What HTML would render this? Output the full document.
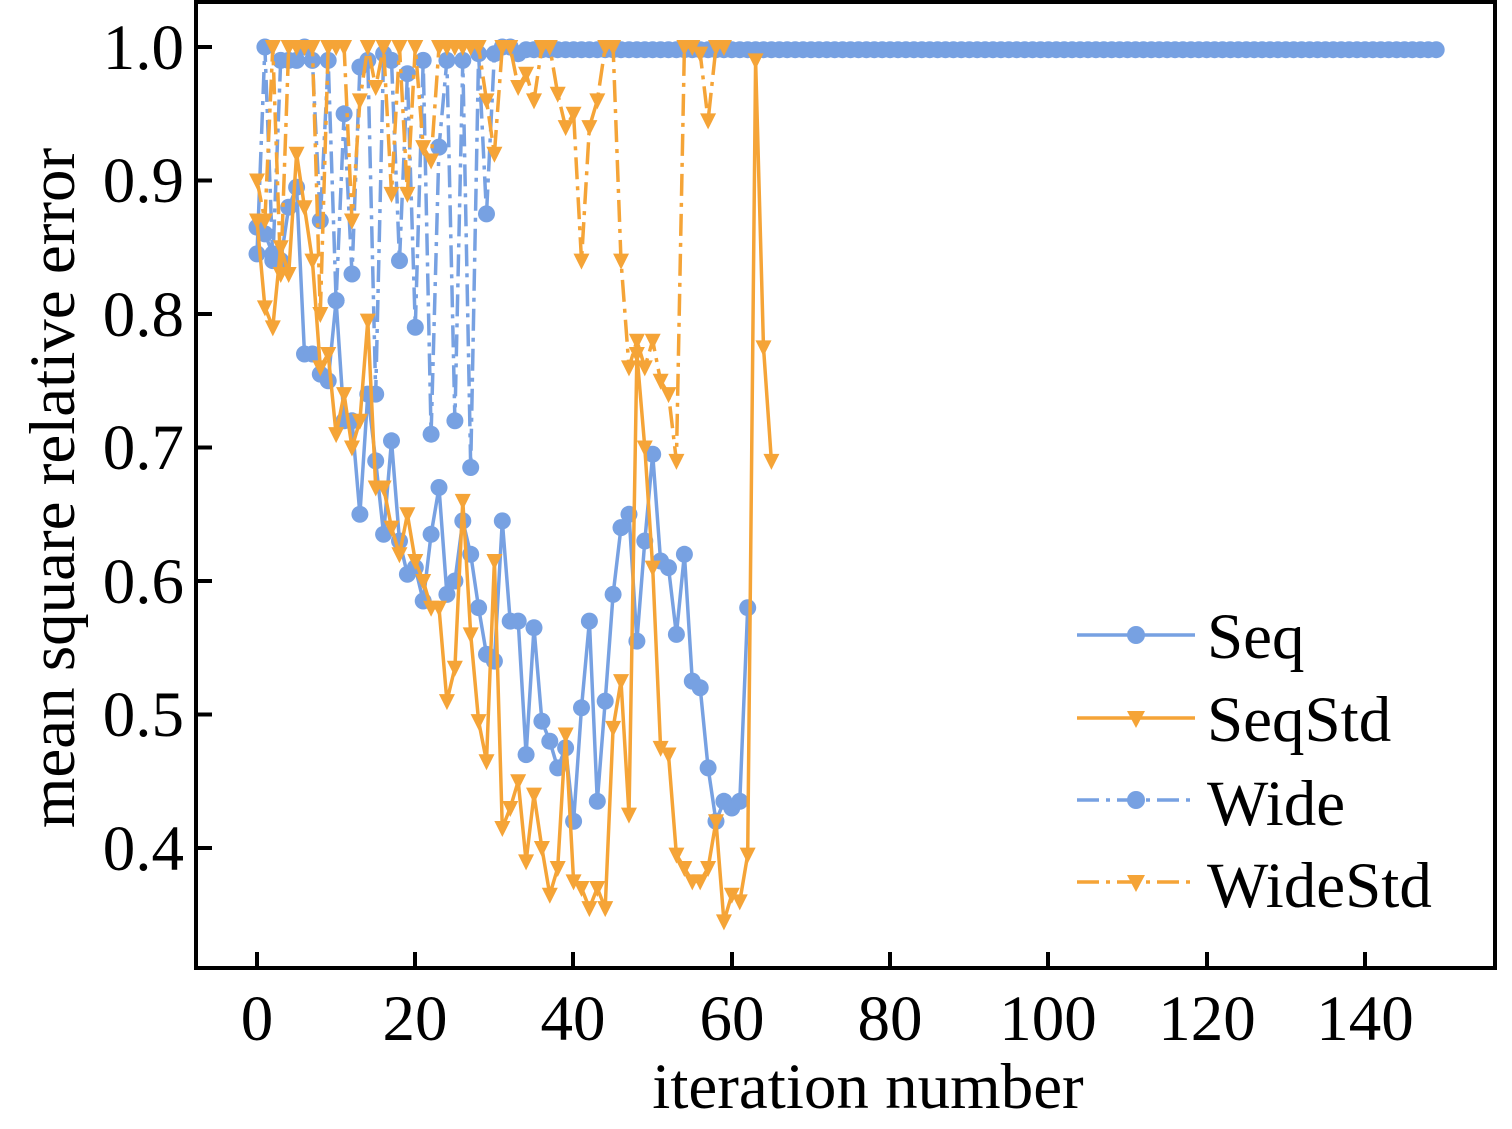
<!DOCTYPE html>
<html><head><meta charset="utf-8"><style>
html,body{margin:0;padding:0;background:#fff;}
svg{display:block;}
text{font-family:"Liberation Serif",serif;fill:#000;}
</style></head><body>
<svg id="s" width="1512" height="1129" viewBox="0 0 1512 1129" xmlns="http://www.w3.org/2000/svg">
<rect x="0" y="0" width="1512" height="1129" fill="#fff"/>
<g id="data"></g>
<rect x="196" y="2" width="1299" height="966" fill="none" stroke="#000" stroke-width="4"/>
<g stroke="#000" stroke-width="4">
<line x1="257" y1="968" x2="257" y2="952"/><line x1="415" y1="968" x2="415" y2="952"/><line x1="573" y1="968" x2="573" y2="952"/><line x1="732" y1="968" x2="732" y2="952"/><line x1="890" y1="968" x2="890" y2="952"/><line x1="1048" y1="968" x2="1048" y2="952"/><line x1="1207" y1="968" x2="1207" y2="952"/><line x1="1365" y1="968" x2="1365" y2="952"/>
<line x1="196" y1="47" x2="212" y2="47"/><line x1="196" y1="180.5" x2="212" y2="180.5"/><line x1="196" y1="314" x2="212" y2="314"/><line x1="196" y1="447.5" x2="212" y2="447.5"/><line x1="196" y1="581" x2="212" y2="581"/><line x1="196" y1="714.5" x2="212" y2="714.5"/><line x1="196" y1="848" x2="212" y2="848"/>
</g>
<g font-size="65" text-anchor="middle">
<text x="257" y="1040">0</text><text x="415" y="1040">20</text><text x="573" y="1040">40</text><text x="732" y="1040">60</text><text x="890" y="1040">80</text><text x="1048" y="1040">100</text><text x="1207" y="1040">120</text><text x="1365" y="1040">140</text>
</g>
<g font-size="65" text-anchor="end">
<text x="184" y="69">1.0</text><text x="184" y="202">0.9</text><text x="184" y="336">0.8</text><text x="184" y="469">0.7</text><text x="184" y="603">0.6</text><text x="184" y="736">0.5</text><text x="184" y="870">0.4</text>
</g>
<text x="868" y="1108" font-size="65" text-anchor="middle">iteration number</text>
<text transform="translate(74,488) rotate(-90)" font-size="65" text-anchor="middle">mean square relative error</text>
<g id="leg"></g>
<g font-size="65">
<text x="1207" y="658">Seq</text><text x="1207" y="741">SeqStd</text><text x="1207" y="825">Wide</text><text x="1207" y="907">WideStd</text>
</g>
</svg>
<script>
const B="#77a1e2",O="#f5a437";
const X=v=>257+v*7.914, Y=v=>47+(1-v)*1335;
function arr(a){return a.map((v,i)=>[i,v]);}
let seq=arr([.865,.86,.845,.84,.88,.895,.77,.77,.755,.75,.81,.72,.72,.65,.74,.69,.635,.705,.63,.605,.61,.585,.635,.67,.59,.6,.645,.62,.58,.545,.54,.645,.57,.57,.47,.565,.495,.48,.46,.475,.42,.505,.57,.435,.51,.59,.64,.65,.555,.63,.695,.615,.61,.56,.62,.525,.52,.46,.42,.435,.43,.435,.58]);
let seqstd=arr([.87,.805,.79,.85,.83,.92,.88,.84,.76,.77,.71,.74,.70,.72,.795,.67,.67,.64,.62,.65,.615,.60,.58,.58,.51,.535,.66,.56,.495,.465,.615,.415,.43,.45,.39,.44,.40,.365,.385,.485,.375,.37,.355,.37,.355,.49,.525,.425,.77,.70,.61,.475,.47,.395,.385,.375,.375,.385,.42,.345,.365,.36,.395,.99,.775,.69]);
let w=[.845,1,.84,.99,.99,.99,1,.99,.87,.99,.81,.95,.83,.985,.99,.74,.995,.99,.84,.98,.79,.99,.71,.925,.99,.72,.99,.685,.995,.875,.995,1,1,.995];
while(w.length<150)w.push(.998);
let wide=arr(w);
let ws=[.90,.87,1,.83,1,1,1,1,.80,1,1,1,.87,.96,1,.97,1,.89,1,.89,1,.925,.915,1,1,1,1,1,1,.96,.92,1,1,.97,.98,.96,1,1,.965,.94,.95,.84,.94,.96,1,1,.84,.76,.78,.76,.78,.75,.74,.69,1,1,.995,.945,1,1];
let wstd=arr(ws);
const g=document.getElementById('data');let h='';
function line(d,c,dash){h+=`<polyline fill="none" stroke="${c}" stroke-width="3.5" ${dash?'stroke-dasharray="22,7,4,7"':''} points="${d.map(p=>X(p[0]).toFixed(1)+','+Y(p[1]).toFixed(1)).join(' ')}"/>`;}
function circ(d,c){d.forEach(p=>h+=`<circle cx="${X(p[0]).toFixed(1)}" cy="${Y(p[1]).toFixed(1)}" r="8.5" fill="${c}"/>`);}
function tri(d,c){d.forEach(p=>{let x=X(p[0]),y=Y(p[1]);h+=`<polygon points="${x-8},${y-7} ${x+8},${y-7} ${x},${y+9}" fill="${c}"/>`;});}
line(wide,B,1);circ(wide,B);
line(seq,B,0);circ(seq,B);
line(wstd,O,1);tri(wstd,O);
line(seqstd,O,0);tri(seqstd,O);
g.innerHTML=h;
let l='';
[[635,B,0,'c'],[718,O,0,'t'],[800,B,1,'c'],[882,O,1,'t']].forEach(([y,c,d,m])=>{
l+=`<line x1="1077" y1="${y}" x2="1195" y2="${y}" stroke="${c}" stroke-width="3.5" ${d?'stroke-dasharray="22,7,4,7"':''}/>`;
if(m=='c')l+=`<circle cx="1136" cy="${y}" r="9" fill="${c}"/>`;else l+=`<polygon points="1127,${y-7} 1145,${y-7} 1136,${y+10}" fill="${c}"/>`;});
document.getElementById('leg').innerHTML=l;
</script>
</body></html>
